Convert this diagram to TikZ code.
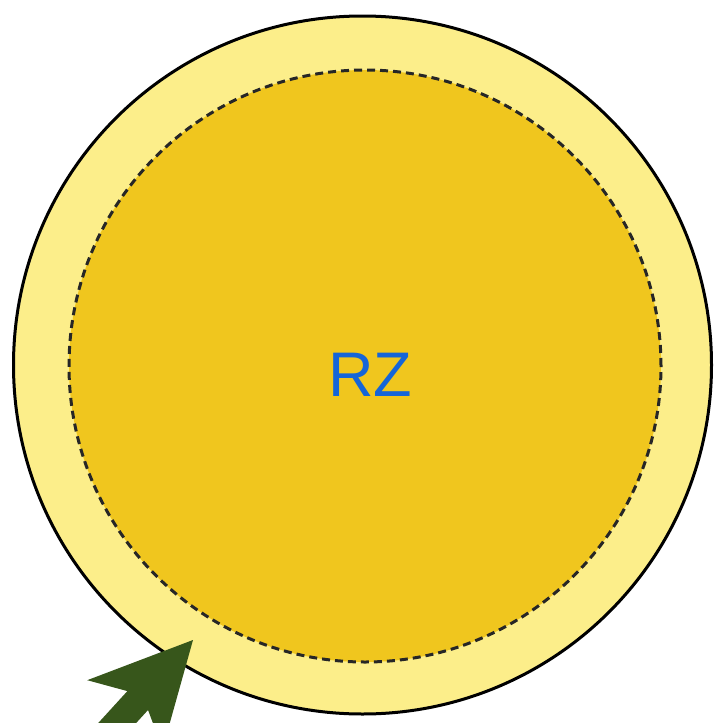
\documentclass[tikz,border=0pt]{standalone}
\usepackage{fontspec}
\setmainfont{Liberation Sans}
\usetikzlibrary{calc}
\definecolor{zonepale}{RGB}{252,238,138}
\definecolor{zonegold}{RGB}{240,198,30}
\definecolor{rzblue}{RGB}{21,101,216}
\definecolor{arrowgreen}{RGB}{55,86,27}

\begin{document}
\begin{tikzpicture}[
  x=1pt, y=1pt,
  cell/.style={circle, draw=black, line width=3pt, fill=zonepale,
    minimum size=698pt, inner sep=0pt},
  zone/.style={circle, draw=black!85, line width=3pt, fill=zonegold,
    dash pattern=on 8pt off 5pt, minimum size=592pt, inner sep=0pt},
  zonelabel/.style={font=\fontsize{63}{63}\selectfont, text=rzblue, inner sep=0pt},
]

% Frame
\clip (0,0) rectangle (715,-723);

% Circles
\node[cell] (outer) at (362.5,-365) {};
\node[zone] (inner) at (365,-366) {};
\node[zonelabel] (rz) at (370,-374.5) {RZ};

% Pointer
\coordinate (tip) at (193,-640);
\begin{scope}[shift={(tip)}, rotate=47.6]
  \fill[arrowgreen] (0,0) -- (-101,51) -- (-82,14) -- (-260,14)
    -- (-260,-14) -- (-82,-14) -- (-101,-51) -- cycle;
\end{scope}

\end{tikzpicture}
\end{document}
